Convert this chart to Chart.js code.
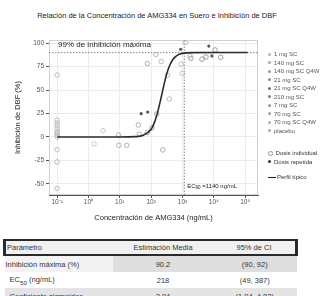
<!DOCTYPE html>
<html>
<head>
<meta charset="utf-8">
<script src="https://cdn.jsdelivr.net/npm/chart.js@4.4.0/dist/chart.umd.min.js"></script>
<style>
  body { margin: 0; background: #fff; font-family: "Liberation Sans", Arial, sans-serif; }
  #wrap { position: relative; width: 322px; height: 296px; overflow: hidden; background: #fff; }
  #title { position: absolute; left: 0; top: 11px; width: 314px; text-align: center; font-size: 7.5px; color: #222; white-space: nowrap; }
  #chart { position: absolute; left: 0; top: 0; }
  #legend { position: absolute; left: 268px; top: 50px; font-size: 6px; color: #555; white-space: nowrap; }
  #legend .it { height: 8.5px; line-height: 8.5px; }
  #legend .mk { display: inline-block; width: 3px; height: 3px; border-radius: 50%; margin-right: 3px; vertical-align: middle; }
  #legend .gap { height: 14px; }
  #tbl { position: absolute; left: 3px; top: 239px; width: 295px; border-collapse: collapse; font-size: 7.5px; color: #333; }
  #tbl td { padding: 0 1px; height: 16px; }
  #tbl tr.hd td { background: #f1f1f1; border-top: 2px solid #2a2a2a; border-bottom: 2px solid #2a2a2a; height: 13px; }
  #tbl tr.hd td:first-child { border-left: 3px solid #2a2a2a; }
  #tbl tr.hd td:last-child { border-right: 3px solid #2a2a2a; }
  #tbl td.c2 { text-align: center; }
  #tbl td.c3 { text-align: center; }
  #tbl tr.r0 td { background: #dedede; }
  #tbl tr.r0 td:first-child { background: #f3f3f3; }
  #tbl tr.r1 td { background: #fff; }
  #tbl tr.r2 td { background: #e4e4e4; }
</style>
</head>
<body>
<div id="wrap">
  <div id="title">Relación de la Concentración de AMG334 en Suero e Inhibición de DBF</div>
  <canvas id="chart" width="322" height="232"></canvas>
  <div id="legend"></div>
  <table id="tbl"></table>
</div>
<script>
// x axis ticks (ng/mL, log scale)
const xTickVals = [0.1, 1, 10, 100, 1000, 10000, 100000];
const xTickLabels = ['10⁻¹', '10⁰', '10¹', '10²', '10³', '10⁴', '10⁵'];
const yTickVals = [-50, -25, 0, 25, 50, 75, 100];

// dose groups, in legend order
const doseLabels = ['1 mg SC', '140 mg SC', '140 mg SC Q4W', '21 mg SC', '21 mg SC Q4W',
                    '210 mg SC', '7 mg SC', '70 mg SC', '70 mg SC Q4W', 'placebo'];
const doseColors = ['#b4b4b4', '#a8a8a8', '#9c9c9c', '#8c8c8c', '#6e6e6e',
                    '#7a7a7a', '#969696', '#a0a0a0', '#b0b0b0', '#aaaaaa'];
const doseRepeated = [false, false, true, false, true, false, false, false, true, false];

const conc1mg = [2.9, 1.5];
const inhib1mg = [6.7, -7.4];
const conc140mg = [912, 977, 1260, 1740];
const inhib140mg = [77.7, 68, 100.7, 86.5];
const conc140q4w = [8710, 6920];
const inhib140q4w = [86.5, 97];
const conc21mg = [75.9, 105, 151, 234, 76];
const inhib21mg = [4.6, 9.6, 24.5, -13.8, 78.4];
const conc21q4w = [47.9, 77.6];
const inhib21q4w = [24.8, 26.6];
const conc210mg = [1862, 4170, 5620, 16600, 11000];
const inhib210mg = [84, 83, 85.4, 85, 92.9];
const conc7mg = [9.1, 9.3, 16.6, 39, 41.7];
const inhib7mg = [2, -9, -9, 12.8, 2.9];
const conc70mg = [209, 331, 380, 141];
const inhib70mg = [80.5, 66, 40.4, 88];
const conc70q4w = [871];
const inhib70q4w = [93.6];
const concPlacebo = [0.1, 0.1, 0.1, 0.1, 0.1, 0.1, 0.1, 0.1, 0.1, 0.1, 0.1, 0.1];
const inhibPlacebo = [66, 18, 15, 12, 9, 6, 4, 2, 0, -13.5, -26.6, -55];

const doseConc = [conc1mg, conc140mg, conc140q4w, conc21mg, conc21q4w, conc210mg, conc7mg, conc70mg, conc70q4w, concPlacebo];
const doseInhib = [inhib1mg, inhib140mg, inhib140q4w, inhib21mg, inhib21q4w, inhib210mg, inhib7mg, inhib70mg, inhib70q4w, inhibPlacebo];

// typical profile (solid curve)
const curveConc = [0.1, 1, 10, 31.6, 56, 100, 126, 158, 200, 251, 316, 398, 501, 631, 794, 1000, 2000, 10000, 120000];
const curveInhib = [0, 0, 0, 0.3, 1.7, 8.3, 15, 25.4, 39.4, 54.3, 67.6, 77.1, 83, 86.4, 88.2, 89.2, 90, 90.2, 90.2];

// reference lines
const maxInhib = 90;
const ec90 = 1140;

// table
const paramNames = ['Inhibición máxima (%)', 'EC<sub>50</sub> (ng/mL)', 'Coeficiente sigmoideo'];
const paramEst = ['90.2', '218', '2.94'];
const paramCI = ['(90, 92)', '(49, 387)', '(1.04, 4.82)'];

const X_MIN = 0.055, X_MAX = 257000, Y_MIN = -62, Y_MAX = 103.5;

const datasets = [];
datasets.push({
  label: 'Perfil típico',
  data: curveConc.map((c, i) => ({ x: c, y: curveInhib[i] })),
  showLine: true, borderColor: '#2b2b2b', borderWidth: 1.6, pointRadius: 0,
  cubicInterpolationMode: 'monotone', order: -2
});
datasets.push({
  data: [{ x: X_MIN, y: maxInhib }, { x: X_MAX, y: maxInhib }],
  showLine: true, borderColor: '#666', borderWidth: 0.8, borderDash: [1.5, 1.5], pointRadius: 0, order: 5
});
datasets.push({
  data: [{ x: ec90, y: Y_MIN }, { x: ec90, y: Y_MAX }],
  showLine: true, borderColor: '#666', borderWidth: 0.8, borderDash: [1.5, 1.5], pointRadius: 0, order: 5
});
doseLabels.forEach((lab, k) => {
  const rep = doseRepeated[k];
  datasets.push({
    label: lab,
    data: doseConc[k].map((c, i) => ({ x: c, y: doseInhib[k][i] })),
    pointRadius: rep ? 1.6 : 2.3,
    pointBorderWidth: rep ? 0 : 0.7,
    borderColor: rep ? '#555' : doseColors[k],
    backgroundColor: rep ? '#555' : 'rgba(0,0,0,0)',
    order: rep ? -1 : 1
  });
});

// light frame round the plot plus the in-plot labels
const frameAndText = {
  id: 'frameAndText',
  beforeDatasetsDraw(chart) {
    const { ctx, chartArea: a } = chart;
    ctx.save();
    ctx.strokeStyle = '#d0d0d0';
    ctx.lineWidth = 1;
    ctx.strokeRect(a.left + 0.5, a.top + 0.5, a.right - a.left - 1, a.bottom - a.top - 1);
    ctx.restore();
  },
  afterDraw(chart) {
    const { ctx, chartArea: a } = chart;
    ctx.save();
    ctx.fillStyle = '#222';
    ctx.textBaseline = 'middle';
    ctx.font = '8px "Liberation Sans", Arial, sans-serif';
    ctx.fillText('99% de inhibición máxima', a.left + 9, a.top + 5);
    let x = chart.scales.x.getPixelForValue(ec90) + 3;
    const y = a.bottom - 9;
    ctx.font = '6px "Liberation Sans", Arial, sans-serif';
    ctx.fillText('EC', x, y);
    x += ctx.measureText('EC').width;
    ctx.font = '4.5px "Liberation Sans", Arial, sans-serif';
    ctx.fillText('90', x, y + 1.5);
    x += ctx.measureText('90').width;
    ctx.font = '6px "Liberation Sans", Arial, sans-serif';
    ctx.fillText(' =1140 ng/mL', x, y);
    ctx.restore();
  }
};

new Chart(document.getElementById('chart'), {
  type: 'scatter',
  data: { datasets: datasets },
  options: {
    responsive: false,
    animation: false,
    layout: { padding: { top: 40, right: 64, left: 0, bottom: 0 } },
    plugins: { legend: { display: false }, tooltip: { enabled: false } },
    scales: {
      x: {
        type: 'logarithmic', min: X_MIN, max: X_MAX,
        afterBuildTicks: s => { s.ticks = xTickVals.map(v => ({ value: v })); },
        afterFit: s => { s.height = 37; },
        ticks: {
          autoSkip: false, maxRotation: 0, padding: 0, color: '#555',
          font: { size: 6.5, family: '"Liberation Sans", Arial, sans-serif' },
          callback: (v, i) => xTickLabels[i]
        },
        grid: { color: '#ececec', tickColor: '#555', tickLength: 3 },
        border: { color: '#555' },
        title: {
          display: true, text: 'Concentración de AMG334 (ng/mL)', color: '#222',
          font: { size: 7.5, family: '"Liberation Sans", Arial, sans-serif' },
          padding: { top: 2, bottom: 10 }
        }
      },
      y: {
        min: Y_MIN, max: Y_MAX,
        afterBuildTicks: s => { s.ticks = yTickVals.map(v => ({ value: v })); },
        afterFit: s => { s.width = 49; },
        ticks: {
          padding: 2, color: '#555',
          font: { size: 6.5, family: '"Liberation Sans", Arial, sans-serif' }
        },
        grid: { color: '#ececec', tickColor: '#555', tickLength: 3 },
        border: { color: '#555' },
        title: {
          display: true, text: 'Inhibición de DBF (%)', color: '#222',
          font: { size: 7.5, family: '"Liberation Sans", Arial, sans-serif' },
          padding: { top: 13, bottom: 0 }
        }
      }
    }
  },
  plugins: [frameAndText]
});

// legend
const leg = document.getElementById('legend');
doseLabels.forEach((lab, k) => {
  const d = document.createElement('div');
  d.className = 'it';
  d.innerHTML = '<span class="mk" style="background:' + doseColors[k] + '"></span>' + lab;
  leg.appendChild(d);
});
leg.insertAdjacentHTML('beforeend',
  '<div class="gap"></div>' +
  '<div class="it" style="color:#333"><span class="mk" style="border:0.7px solid #999;width:2.6px;height:2.6px"></span>Dosis individual</div>' +
  '<div class="it" style="color:#333"><span class="mk" style="background:#333"></span>Dosis repetida</div>' +
  '<div style="height:7px"></div>' +
  '<div class="it" style="color:#333"><span style="display:inline-block;width:8px;height:1.5px;background:#222;vertical-align:middle;margin-right:1px"></span>Perfil típico</div>');

// table
const tbl = document.getElementById('tbl');
let rows = '<tr class="hd"><td style="width:105px">Parámetro</td><td class="c2" style="width:98px">Estimación Media</td><td class="c3">95% de CI</td></tr>';
paramNames.forEach((p, i) => {
  rows += '<tr class="r' + i + '"><td' + (i > 0 ? ' style="padding-left:5px"' : '') + '>' + p + '</td><td class="c2">' + paramEst[i] + '</td><td class="c3">' + paramCI[i] + '</td></tr>';
});
tbl.innerHTML = rows;
</script>
</body>
</html>
